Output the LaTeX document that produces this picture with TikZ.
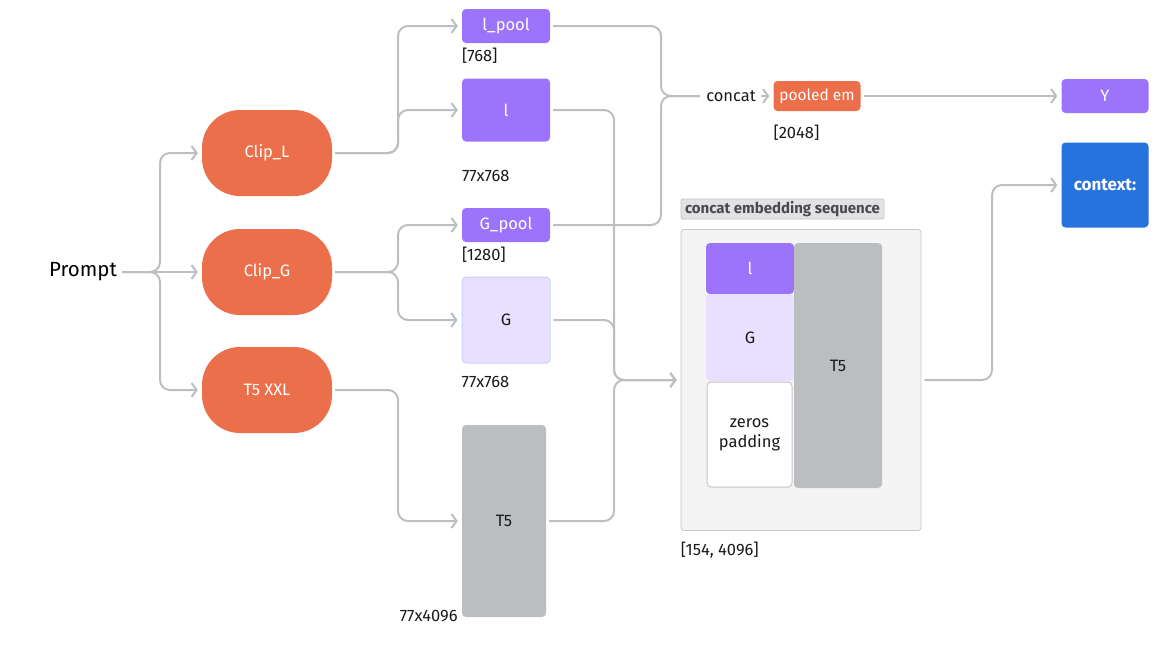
\documentclass[tikz,border=0pt]{standalone}
\usepackage{fontspec}
\setmainfont{Fira Sans}
\usepackage{xcolor}
\definecolor{encorange}{HTML}{EC6F4B}
\definecolor{embpurple}{HTML}{9C74FB}
\definecolor{emblilac}{HTML}{E8E0FE}
\definecolor{embedge}{HTML}{C5D5F8}
\definecolor{embgray}{HTML}{BBBEC1}
\definecolor{ctxblue}{HTML}{2673DE}
\definecolor{linkgray}{HTML}{BCBEC2}
\definecolor{seqfill}{HTML}{F4F4F5}
\definecolor{seqedge}{HTML}{C6C6CA}
\definecolor{seqtext}{HTML}{4A4A4E}
\definecolor{dimtext}{HTML}{1A1A1A}
\usepackage{tikz}
\usetikzlibrary{arrows.meta, positioning}

\begin{document}
\begin{tikzpicture}[
    x=1pt, y=-1pt,
    encoder/.style={rectangle, rounded corners=38pt, fill=encorange, draw=none, minimum width=130pt, minimum height=86pt, inner sep=0pt, text=white, font=\fontsize{16.5}{20}\selectfont},
    emb/.style={rectangle, rounded corners=4pt, fill=embpurple, draw=none, minimum width=88pt, inner sep=0pt, text=white, font=\fontsize{16.5}{20}\selectfont},
    dim/.style={inner sep=0pt, text=dimtext, font=\fontsize{16.5}{20}\selectfont},
    link/.style={draw=linkgray, line width=2pt, rounded corners=10pt, shorten <=3pt},
    arrow/.style={-{Straight Barb[length=5pt, width=14pt]}, shorten >=4pt}
]
\useasboundingbox (0,0) rectangle (1161,646);

% Prompt and encoders
\node[inner sep=2pt, text=black, font=\fontsize{20.5}{24}\selectfont] (prompt) at (83,272) {Prompt};
\node[encoder] (clipL) at (267,153) {Clip\_L};
\node[encoder] (clipG) at (267,272) {Clip\_G};
\node[encoder] (t5xxl) at (267,390) {T5 XXL};

% Clip_L outputs
\node[emb, minimum height=34pt] (lpool) at (506,26) {l\_pool};
\node[dim, anchor=north west] at ([yshift=-5pt]lpool.south west) {[768]};
\node[emb, minimum height=63pt] (lfull) at (506,110) {l};
\node[dim, anchor=north west] at ([yshift=-28pt]lfull.south west) {77x768};

% Clip_G outputs
\node[emb, minimum height=34pt] (Gpool) at (506,225) {G\_pool};
\node[dim, anchor=north west] at ([yshift=-5pt]Gpool.south west) {[1280]};
\node[emb, fill=emblilac, draw=embedge, line width=1pt, text=dimtext, minimum height=86pt] (Gfull) at (506,320) {G};
\node[dim, anchor=north west] at ([yshift=-13pt]Gfull.south west) {77x768};

% T5 output
\node[emb, fill=embgray, text=dimtext, minimum width=84pt, minimum height=192pt] (T5) at (504,521) {T5};
\node[dim, anchor=base east] at ([xshift=-4pt, yshift=-4pt]T5.south west) {77x4096};

% Pooled embedding
\node[inner sep=2pt, text=dimtext, font=\fontsize{16.5}{20}\selectfont] (concat) at (731,96) {concat};
\node[emb, fill=encorange, minimum width=87pt, minimum height=30pt, font=\fontsize{15.5}{19}\selectfont] (pooled) at (817,96) {pooled em};
\node[dim, anchor=north west] at ([yshift=-14pt]pooled.south west) {[2048]};
\node[emb, minimum width=87pt, minimum height=34pt] (Y) at (1105,96) {Y};
\node[emb, fill=ctxblue, minimum width=87pt, minimum height=85pt, font=\fontsize{17}{20}\selectfont\bfseries] (context) at (1105,185) {context:};

% Concat embedding sequence
\node[rectangle, rounded corners=2pt, fill=seqfill!60!seqedge, draw=seqedge, line width=0.8pt, minimum width=203pt, minimum height=20pt, inner sep=0pt, text=seqtext, font=\fontsize{15}{18}\selectfont\bfseries] (seqlabel) at (782.5,209) {concat embedding sequence};
\node[rectangle, rounded corners=3pt, fill=seqfill, draw=seqedge, line width=0.8pt, minimum width=240pt, minimum height=301pt, inner sep=0pt] (seq) at (801,380) {};
\node[emb, minimum height=51pt] (seql) at (750,268.5) {l};
\node[emb, fill=emblilac, text=dimtext, minimum height=87pt] (seqG) at (750,337.5) {G};
\node[emb, fill=white, draw=seqedge, line width=1pt, text=dimtext, minimum width=85pt, minimum height=105pt, align=center] (zeros) at (749.5,434.5) {zeros\\padding};
\node[emb, fill=embgray, text=dimtext, minimum height=245pt] (seqT5) at (838,365.5) {T5};
\node[dim, anchor=north west] at ([yshift=-11pt]seq.south west) {[154, 4096]};

% Fork points
\coordinate (pfork) at (160,272);
\coordinate (lfork) at (398,153);
\coordinate (gfork) at (398,272);
\coordinate (tfork) at (398,390);
\coordinate (cfork) at (661,96);
\coordinate (sfork) at (614,380);
\coordinate (xfork) at (992,380);

% Arrows
\draw[link, arrow] (prompt.east) -- (pfork) |- (clipL.west);
\draw[link, arrow] (prompt.east) -- (clipG.west);
\draw[link, arrow] (prompt.east) -- (pfork) |- (t5xxl.west);
\draw[link, arrow] (clipL.east) -- (lfork) |- (lpool.west);
\draw[link, arrow] (clipL.east) -- (lfork) |- (lfull.west);
\draw[link, arrow] (clipG.east) -- (gfork) |- (Gpool.west);
\draw[link, arrow] (clipG.east) -- (gfork) |- (Gfull.west);
\draw[link, arrow] (t5xxl.east) -- (tfork) |- (T5.west);
\draw[link, shorten >=4pt] (lpool.east) -| (cfork) -- (concat.west);
\draw[link, shorten >=4pt] (Gpool.east) -| (cfork) -- (concat.west);
\draw[link, arrow] (concat.east) -- (pooled.west);
\draw[link, arrow] (pooled.east) -- (Y.west);
\draw[link, arrow] (lfull.east) -| (sfork) -- (seq.west);
\draw[link, arrow] (Gfull.east) -| (sfork) -- (seq.west);
\draw[link, arrow] (T5.east) -| (sfork) -- (seq.west);
\draw[link, arrow] (seq.east) -- (xfork) |- (context.west);

\end{tikzpicture}
\end{document}
